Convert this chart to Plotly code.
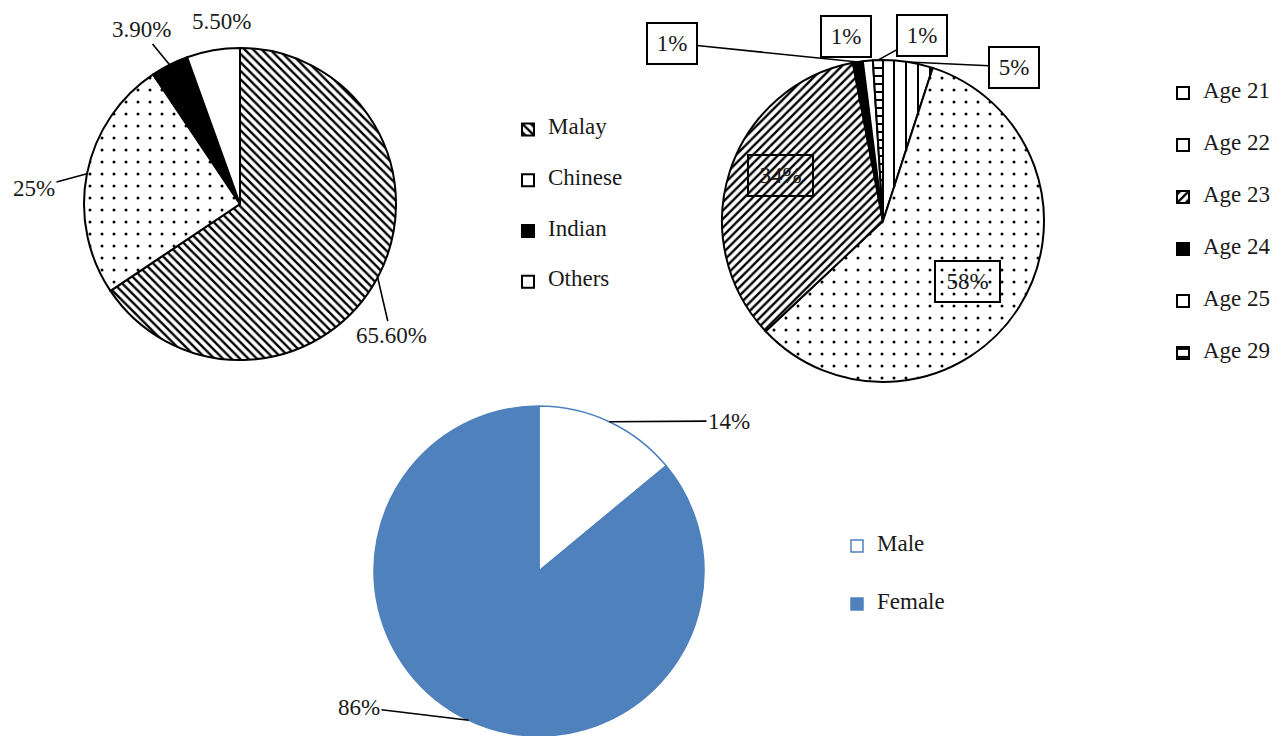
import math
import plotly.graph_objects as go

W, H = 1274, 736
FONT = "Liberation Serif, Times New Roman, serif"
TXT = "#1a1a1a"

# ---------------- data ----------------
ethnic_labels = ["Malay", "Chinese", "Indian", "Others"]
ethnic_values = [65.6, 25.0, 3.9, 5.5]

age_labels = ["Age 21", "Age 22", "Age 23", "Age 24", "Age 25", "Age 29"]
age_values = [5, 58, 34, 1, 1, 1]

gender_labels = ["Male", "Female"]
gender_values = [14, 86]

# ---------------- layout constants (pixels) ----------------
PIE1 = dict(cx=240, cy=204, r=156)
PIE2 = dict(cx=883, cy=221, r=161)
PIE3 = dict(cx=539, cy=571, r=165)

# label centres (layout only) and whether a leader line is drawn
LAB1 = [(391, 335), (34, 188), (141, 30), (221, 22)]
ARR1 = [True, True, True, False]
LAB2 = [(1014, 67), (967, 281), (780, 176), (672, 43), (846, 36), (922, 36)]
ARR2 = [True, False, False, True, False, True]
BOXW2 = [42, 57, 57, 42, 42, 42]
LAB3 = [(729, 421), (359, 707)]
ARR3 = [True, True]


def domain(p):
    cx, cy, r = p["cx"], p["cy"], p["r"]
    return dict(x=[(cx - r) / W, (cx + r) / W], y=[1 - (cy + r) / H, 1 - (cy - r) / H])


def mid_angles(values):
    tot = float(sum(values))
    out, acc = [], 0.0
    for v in values:
        out.append((acc + v / 2.0) / tot * 2 * math.pi)
        acc += v
    return out


def head(p, ang, k=1.0):
    return (p["cx"] + k * p["r"] * math.sin(ang), p["cy"] - k * p["r"] * math.cos(ang))


def fmt(v):
    return f"{v:.0f}%" if float(v).is_integer() else f"{v:.2f}%"


def legend_label(lab):
    # padded to give Excel-like spacing between legend rows
    return "\u00a0<br><span style='font-size:23px'>" + lab + "</span><br>\u00a0"


fig = go.Figure()

fig.add_trace(go.Pie(
    labels=[legend_label(s) for s in ethnic_labels], values=ethnic_values,
    sort=False, direction="clockwise", rotation=0, textinfo="none",
    domain=domain(PIE1), legend="legend",
    marker=dict(colors=["white", "white", "black", "white"],
                line=dict(color="black", width=2),
                pattern=dict(shape=["\\", ".", "", ""], fgcolor="black",
                             size=[6, 12, 8, 8], solidity=[0.4, 0.05, 0.3, 0.3])),
))

fig.add_trace(go.Pie(
    labels=[legend_label(s) for s in age_labels], values=age_values,
    sort=False, direction="clockwise", rotation=0, textinfo="none",
    domain=domain(PIE2), legend="legend2",
    marker=dict(colors=["white", "white", "white", "black", "white", "white"],
                line=dict(color="black", width=2),
                pattern=dict(shape=["|", ".", "/", "", "", "-"], fgcolor="black",
                             size=[12, 12, 6, 8, 8, 8], solidity=[0.17, 0.05, 0.4, 0.3, 0.3, 0.25])),
))

fig.add_trace(go.Pie(
    labels=[legend_label(s) for s in gender_labels], values=gender_values,
    sort=False, direction="clockwise", rotation=0, textinfo="none",
    domain=domain(PIE3), legend="legend3",
    marker=dict(colors=["white", "#4F81BD"], line=dict(color="#4F81BD", width=1.5)),
))

annotations = []


def add_labels(p, values, labpos, arrows, boxw=None):
    angs = mid_angles(values)
    for i, v in enumerate(values):
        lx, ly = labpos[i]
        a = dict(text=fmt(v), xref="paper", yref="paper",
                 xanchor="center", yanchor="middle",
                 font=dict(family=FONT, size=23, color=TXT))
        if boxw is not None:
            a.update(bordercolor="black", borderwidth=2, borderpad=3,
                     width=boxw[i], height=33)
        if arrows[i]:
            hx, hy = head(p, angs[i])
            a.update(x=hx / W, y=1 - hy / H, showarrow=True, arrowhead=0,
                     arrowwidth=1.6, arrowcolor="black", standoff=0,
                     ax=lx - hx, ay=ly - hy)
        else:
            a.update(x=lx / W, y=1 - ly / H, showarrow=False)
        annotations.append(a)


add_labels(PIE1, ethnic_values, LAB1, ARR1)
add_labels(PIE2, age_values, LAB2, ARR2, BOXW2)
add_labels(PIE3, gender_values, LAB3, ARR3)

leg_common = dict(xanchor="left", yanchor="top", bgcolor="rgba(0,0,0,0)",
                  borderwidth=0)

fig.update_layout(
    width=W, height=H,
    margin=dict(l=0, r=0, t=0, b=0, autoexpand=False),
    paper_bgcolor="white", plot_bgcolor="white",
    font=dict(family=FONT, size=23, color=TXT),
    annotations=annotations,
    legend=dict(x=508 / W, y=1 - 99 / H, font=dict(family=FONT, size=12.25, color=TXT), **leg_common),
    legend2=dict(x=1163 / W, y=1 - 62 / H, font=dict(family=FONT, size=12.56, color=TXT), **leg_common),
    legend3=dict(x=837 / W, y=1 - 512 / H, font=dict(family=FONT, size=14.1, color=TXT), **leg_common),
)

fig.write_html("out.html")
